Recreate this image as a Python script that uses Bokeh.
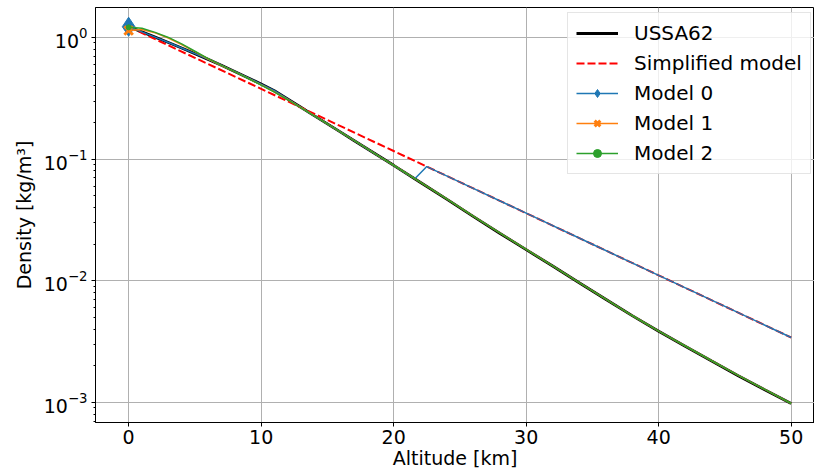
from bokeh.plotting import figure
from bokeh.models import Range1d, FixedTicker, LogTicker, Legend, LegendItem
from bokeh.embed import file_html
from bokeh.resources import INLINE

# ---- data ----
ussa_h = [0, 1, 2, 3, 4, 5, 6, 7, 8, 9, 10, 11, 12, 13, 14, 15, 16, 17, 18, 19, 20,
          22, 24, 26, 28, 30, 32, 34, 36, 38, 40, 42, 44, 46, 48, 50]
ussa_rho = [1.2250, 1.1117, 1.0066, 0.90925, 0.81935, 0.73643, 0.66011, 0.59002, 0.52579,
            0.46706, 0.41351, 0.36480, 0.31194, 0.26660, 0.22786, 0.19475, 0.16647, 0.14230,
            0.12165, 0.10400, 0.08891, 0.06451, 0.04694, 0.03381, 0.02460, 0.01801, 0.01322,
            0.00964, 0.00705, 0.00517, 0.00385, 0.00290, 0.00219, 0.00166, 0.00127, 0.00098]

simple_h = [0, 5, 10, 15, 20, 22.5, 25, 30, 35, 40, 45, 50]
simple_rho = [1.225, 0.680, 0.3778, 0.2098, 0.1165, 0.0868, 0.0647, 0.03593, 0.01995,
              0.01108, 0.006152, 0.003416]

m0_h = [0, 1, 2, 3, 4, 5, 6, 7, 8, 9, 10, 11, 12, 13, 14, 15, 16, 17, 18, 19, 20, 21, 21.6,
        22.5, 25, 30, 35, 40, 45, 50]
m0_rho = [1.2250, 1.1117, 1.0066, 0.90925, 0.81935, 0.73643, 0.66011, 0.59002, 0.52579,
          0.46706, 0.41351, 0.36480, 0.31194, 0.26660, 0.22786, 0.19475, 0.16647, 0.14230,
          0.12165, 0.10400, 0.08891, 0.07574, 0.0690,
          0.0868, 0.0647, 0.03593, 0.01995, 0.01108, 0.006152, 0.003416]

m1_h = [0, 1, 2, 3, 4, 5, 6, 7, 8, 9, 10, 11, 12, 13, 14, 15, 16, 17, 18, 19, 20,
        22, 24, 26, 28, 30, 32, 34, 36, 38, 40, 42, 44, 46, 48, 50]
m1_rho = [1.14, 1.16, 1.09, 0.99, 0.875, 0.765, 0.665, 0.588, 0.523, 0.463, 0.407, 0.357,
          0.309, 0.2655, 0.2275, 0.1948, 0.1665, 0.1423, 0.1217, 0.1040, 0.0890,
          0.0647, 0.0471, 0.0340, 0.0247, 0.0181, 0.01327, 0.00967, 0.00706, 0.00518,
          0.00386, 0.00291, 0.00220, 0.00167, 0.00128, 0.00098]

m2_h = [0, 1, 2, 3, 4, 5, 6, 7, 8, 9, 10, 11, 12, 13, 14, 15, 16, 17, 18, 19, 20,
        22, 24, 26, 28, 30, 32, 34, 36, 38, 40, 42, 44, 46, 48, 50]
m2_rho = [1.21, 1.19, 1.10, 1.00, 0.885, 0.77, 0.67, 0.59, 0.523, 0.462, 0.405, 0.355,
          0.308, 0.265, 0.227, 0.195, 0.1665, 0.1423, 0.1217, 0.1040, 0.0890,
          0.0647, 0.0471, 0.0340, 0.0247, 0.0181, 0.01325, 0.00966, 0.00706, 0.00518,
          0.00386, 0.00291, 0.00220, 0.00167, 0.00128, 0.00098]

x_ticks = [0, 10, 20, 30, 40, 50]

FONT = "DejaVu Sans"
FS = "19px"

p = figure(width=814, height=474, y_axis_type="log",
           x_range=Range1d(-2.5, 51.76), y_range=Range1d(6.84e-4, 1.762),
           output_backend="svg", toolbar_location=None,
           min_border_left=95, min_border_right=0, min_border_top=7, min_border_bottom=52)

p.outline_line_color = "black"
p.outline_line_width = 1

for ax in (p.xaxis, p.yaxis):
    ax.major_label_text_font = FONT
    ax.major_label_text_font_size = FS
    ax.major_label_text_color = "black"
    ax.axis_label_text_font = FONT
    ax.axis_label_text_font_size = FS
    ax.axis_label_text_color = "black"
    ax.axis_label_text_font_style = "normal"
    ax.major_tick_in = 0
    ax.major_tick_out = 4
    ax.minor_tick_in = 0
    ax.minor_tick_out = 2
    ax.axis_line_color = "black"
    ax.major_tick_line_color = "black"
    ax.minor_tick_line_color = "black"

p.xaxis.ticker = FixedTicker(ticks=x_ticks, minor_ticks=[])
p.xaxis.axis_label = "Altitude [km]"
p.xaxis.major_label_standoff = 3
p.xaxis.axis_label_standoff = 0
p.yaxis.ticker = LogTicker(num_minor_ticks=10)
p.yaxis.axis_label = "Density [kg/m³]"
p.yaxis.major_label_standoff = 4
p.yaxis.axis_label_standoff = 6

p.xgrid.grid_line_color = "#b0b0b0"
p.ygrid.grid_line_color = "#b0b0b0"
p.xgrid.grid_line_width = 1
p.ygrid.grid_line_width = 1

r_ussa = p.line(ussa_h, ussa_rho, line_color="black", line_width=2.8)
r_simple = p.line(simple_h, simple_rho, line_color="#ff0000", line_width=2, line_dash="8 3")
r_m0 = p.line(m0_h, m0_rho, line_color="#1f77b4", line_width=1.5)
r_m0s = p.scatter([m0_h[0]], [m0_rho[0]], marker="diamond", size=19,
                  fill_color="#1f77b4", line_color="#1f77b4")
r_m1 = p.line(m1_h, m1_rho, line_color="#ff7f0e", line_width=1.5)
r_m1s = p.scatter([m1_h[0]], [m1_rho[0]], marker="x", size=12, line_width=3,
                  line_color="#ff7f0e")
r_m2 = p.line(m2_h, m2_rho, line_color="#2ca02c", line_width=1.5)
r_m2s = p.scatter([m2_h[0]], [m2_rho[0]], marker="circle", size=5,
                  fill_color="#2ca02c", line_color="#2ca02c")

legend = Legend(items=[
    LegendItem(label="USSA62", renderers=[r_ussa]),
    LegendItem(label="Simplified model", renderers=[r_simple]),
    LegendItem(label="Model 0", renderers=[r_m0, r_m0s]),
    LegendItem(label="Model 1", renderers=[r_m1, r_m1s]),
    LegendItem(label="Model 2", renderers=[r_m2, r_m2s]),
], location=(472, 248))
legend.label_text_font = FONT
legend.label_text_font_size = "20px"
legend.label_text_color = "black"
legend.glyph_width = 42
legend.glyph_height = 20
legend.label_height = 20
legend.spacing = 6
legend.padding = 8
legend.margin = 0
legend.label_standoff = 16
legend.border_line_color = "#cccccc"
legend.border_line_width = 1
legend.background_fill_alpha = 0.8
p.add_layout(legend)

open("out.html", "w").write(file_html(p, INLINE))
